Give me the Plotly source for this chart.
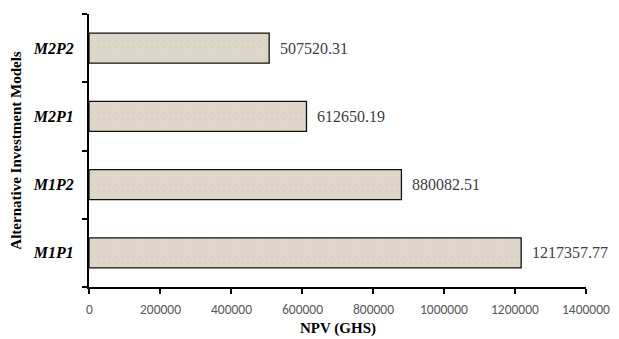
import plotly.graph_objects as go

models = ["M1P1", "M1P2", "M2P1", "M2P2"]
npv = [1217357.77, 880082.51, 612650.19, 507520.31]
x_ticks = [0, 200000, 400000, 600000, 800000, 1000000, 1200000, 1400000]

serif = "Liberation Serif"
sans = "Carlito, Liberation Sans, Arial, sans-serif"

fig = go.Figure(
    go.Bar(
        x=npv,
        y=models,
        orientation="h",
        width=0.44,
        marker=dict(
            color="#ddd6c9",
            line=dict(color="#111111", width=1.3),
            pattern=dict(shape=".", size=6, solidity=0.06,
                         fgcolor="#d2c9b9", bgcolor="#ddd6c9", fillmode="replace"),
        ),
        hoverinfo="x+y",
    )
)

# value labels to the right of each bar
for m, v in zip(models, npv):
    fig.add_annotation(
        x=v, y=m, text=f"{v:.2f}", showarrow=False,
        xanchor="left", yanchor="middle", xshift=9,
        font=dict(family=serif, size=16, color="#404040"),
    )

# x tick labels, set a little further below the axis line
for t in x_ticks:
    fig.add_annotation(
        x=t, xref="x", y=0, yref="paper", text=str(t), showarrow=False,
        xanchor="center", yanchor="top", yshift=-12,
        font=dict(family=sans, size=13.5, color="#595959"),
    )

# x axis title
fig.add_annotation(
    x=0.5, xref="paper", y=0, yref="paper", text="<b>NPV (GHS)</b>",
    showarrow=False, xanchor="center", yanchor="top", yshift=-31,
    font=dict(family=serif, size=15, color="black"),
)

fig.update_layout(
    width=619, height=339,
    margin=dict(l=89, r=33, t=14, b=52),
    paper_bgcolor="white", plot_bgcolor="white",
    showlegend=False,
    xaxis=dict(
        range=[0, 1400000], tickvals=x_ticks,
        showticklabels=False, automargin=False,
        showgrid=False, zeroline=False,
        showline=True, linecolor="black", linewidth=2,
        ticks="outside", ticklen=5, tickwidth=2, tickcolor="black",
    ),
    yaxis=dict(
        categoryorder="array", categoryarray=models,
        tickvals=models, ticktext=[f"<b><i>{m}</i></b>" for m in models],
        tickson="boundaries", automargin=False,
        showgrid=False, zeroline=False,
        showline=True, linecolor="black", linewidth=2,
        ticks="outside", ticklen=5, tickwidth=2, tickcolor="black",
        ticklabelstandoff=10,
        tickfont=dict(family=serif, size=16, color="black"),
        title=dict(text="<b>Alternative Investment Models</b>", font=dict(family=serif, size=15, color="black"), standoff=8),
    ),
)

fig.write_html("out.html")
